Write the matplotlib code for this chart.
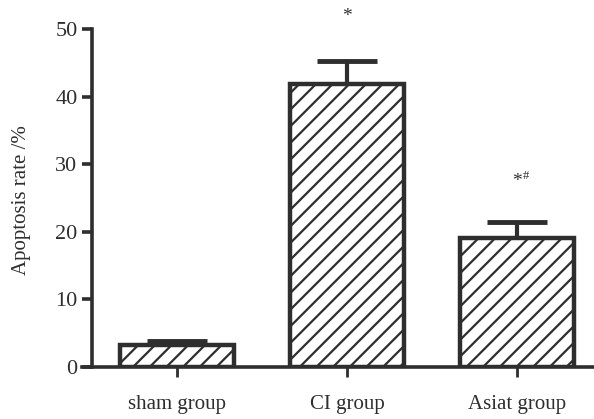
import matplotlib
matplotlib.use('Agg')
import matplotlib.pyplot as plt

groups = ['sham group', 'CI group', 'Asiat group']
rates = [3.25, 41.9, 19.1]
upper_err = [0.65, 3.4, 2.3]
marks = ['', '*', '*']
marks_sup = ['', '', '#']
yticks = [0, 10, 20, 30, 40, 50]

ink = '#2e2e2e'
plt.rcParams['font.family'] = ['Liberation Serif', 'DejaVu Serif']
plt.rcParams['hatch.linewidth'] = 1.6
plt.rcParams['hatch.color'] = ink

W, H = 594, 419
fig = plt.figure(figsize=(W / 100, H / 100), dpi=100)
ax = fig.add_axes([82 / W, (H - 367) / H, (W - 82) / W, (367 - 29) / H])

x = list(range(len(groups)))
ax.bar(x, rates, width=0.676, color='white', edgecolor=ink, linewidth=3.2,
       hatch='//', zorder=2)
ax.errorbar(x, rates, yerr=[[0] * len(x), upper_err], fmt='none', ecolor=ink,
            elinewidth=3, capsize=21.5, capthick=3.5, zorder=1)

for xi, top, e, m, s in zip(x, rates, upper_err, marks, marks_sup):
    if not m:
        continue
    y = top + e + (6.6 if xi == 1 else 6.0)
    ax.text(xi, y, m, ha='center', va='center', fontsize=14, color=ink, clip_on=False)
    if s:
        ax.text(xi + 0.035, y + 0.8, s, ha='left', va='center', fontsize=9,
                color=ink, clip_on=False)

ax.set_xlim(-0.559, 2.453)
ax.set_ylim(0, 50)
ax.set_xticks(x)
ax.set_xticklabels(groups, fontsize=15)
ax.set_yticks(yticks)
ax.tick_params(axis='y', labelsize=16, length=7.5, width=2.6, color=ink,
               labelcolor=ink, pad=3)
ax.tick_params(axis='x', length=7.5, width=2, color=ink, labelcolor=ink, pad=13)

ax.spines['top'].set_visible(False)
ax.spines['right'].set_visible(False)
ax.spines['left'].set_position(('data', -0.5))
for sp in ('left', 'bottom'):
    ax.spines[sp].set_linewidth(2.6)
    ax.spines[sp].set_color(ink)

fig.text(22 / W, 1 - 200 / H, 'Apoptosis rate /%', rotation=90, ha='center',
         va='center', fontsize=15, color=ink)

fig.savefig('out.png', dpi=100)
